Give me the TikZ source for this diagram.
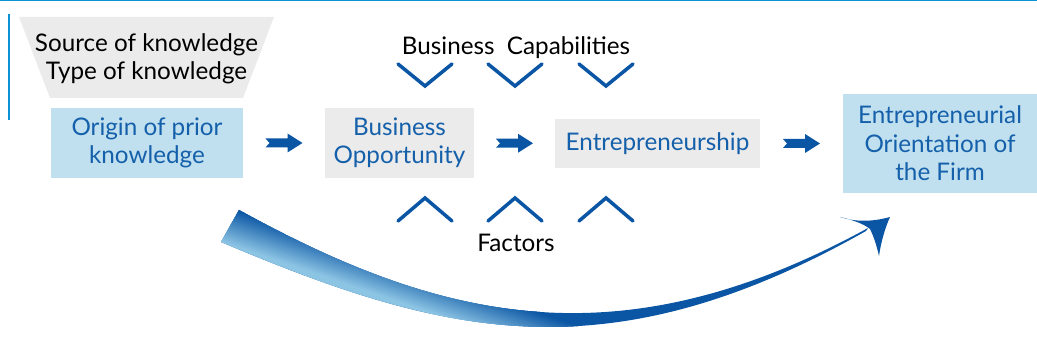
\documentclass[tikz,border=0pt]{standalone}
\usepackage{fontspec}
\setmainfont{Lato}
\usepackage{xcolor}
\usepackage{tikz}
\usetikzlibrary{positioning,calc,arrows.meta}

\definecolor{arrowblue}{HTML}{0B56A4}
\definecolor{textblue}{HTML}{1560AA}
\definecolor{boxblue}{HTML}{C0E0EF}
\definecolor{boxgray}{HTML}{EBEBEB}
\definecolor{gradlight}{HTML}{8CC4E4}
\definecolor{lineblue}{HTML}{0C90D8}

\newcommand{\boxfont}{\fontsize{13.8}{16.2}\selectfont}

\tikzset{
    bluebox/.style={fill=boxblue, text=textblue, align=center, inner sep=0pt, font=\boxfont},
    graybox/.style={fill=boxgray, text=textblue, align=center, inner sep=0pt, font=\boxfont},
    labeltext/.style={text=black, align=center, inner sep=0pt, font=\boxfont},
    chevron/.style={arrowblue, line width=2pt, line cap=round},
    blockarrow/.pic={
        \fill[arrowblue] (-18.5,4.5) -- (3.5,4.5) -- (3.5,9.5) -- (18.5,0)
            -- (3.5,-9.5) -- (3.5,-4.5) -- (-18.5,-4.5) -- (-14.5,0) -- cycle;
    }
}

\begin{document}
\begin{tikzpicture}[x=0.02cm, y=0.02cm]
    \useasboundingbox (0,0) rectangle (1037,350);

    % Frame lines
    \draw[lineblue, line width=0.9pt] (0,349.3) -- (1037,349.3);
    \draw[lineblue, line width=1.2pt] (9,336) -- (9,230);

    % Knowledge funnel
    \fill[boxgray] (19,333) -- (274,333) -- (243,252) -- (50,252) -- cycle;
    \node[labeltext] (source) at (146.5,291) {Source of knowledge\\Type of knowledge};

    % Boxes
    \node[bluebox, minimum width=3.84cm, minimum height=1.4cm] (origin) at (147,207) {Origin of prior\\knowledge};
    \node[graybox, minimum width=2.98cm, minimum height=1.4cm] (opportunity) at (399.5,207) {Business\\Opportunity};
    \node[graybox, minimum width=4.1cm, minimum height=0.98cm] (entrepreneurship) at (657.5,206.5) {Entrepreneurship};
    \node[bluebox, minimum width=3.88cm, minimum height=1.98cm] (orientation) at (940,206.5) {Entrepreneurial\\Orientation of\\the Firm};

    % Block arrows
    \pic at ($(origin.east)!0.5!(opportunity.west)$) {blockarrow};
    \pic at ($(opportunity.east)!0.5!(entrepreneurship.west)$) {blockarrow};
    \pic at ($(entrepreneurship.east)!0.5!(orientation.west)$) {blockarrow};

    % Capabilities and factors
    \node[labeltext] (capabilities) at (516,302) {Business\ \ Capabilities};
    \node[labeltext] (factors) at (516,107) {Factors};
    \foreach \x in {425,515,606} {
        \draw[chevron] (\x-27,286) -- (\x,264) -- (\x+27,286);
        \draw[chevron] (\x-27,129) -- (\x,152) -- (\x+27,129);
    }

    % Curved arrow
    \begin{scope}
        \clip (239,140) .. controls (439,30) and (618,-15) .. (868,122)
            -- (866,119) .. controls (606,-28) and (441,15) .. (221,108) -- cycle;
        \fill[arrowblue] (200,-50) rectangle (900,200);
        \begin{scope}[shift={(221,108)}, rotate=-18.8]
            \fill[gradlight] (-100,-200) rectangle (900,1);
            \foreach \i in {0,...,35} {
                \pgfmathtruncatemacro\p{100*\i/35}
                \fill[arrowblue!\p!gradlight] (-100,\i) rectangle (900,\i+2.5);
            }
        \end{scope}
    \end{scope}
    \fill[arrowblue] (890,133) .. controls (872,128) and (855,128) .. (840,133)
        .. controls (853,130) and (864,126) .. (870,121)
        .. controls (874,113) and (877,103) .. (879,94)
        .. controls (881,108) and (885,122) .. (890,133) -- cycle;
\end{tikzpicture}
\end{document}
